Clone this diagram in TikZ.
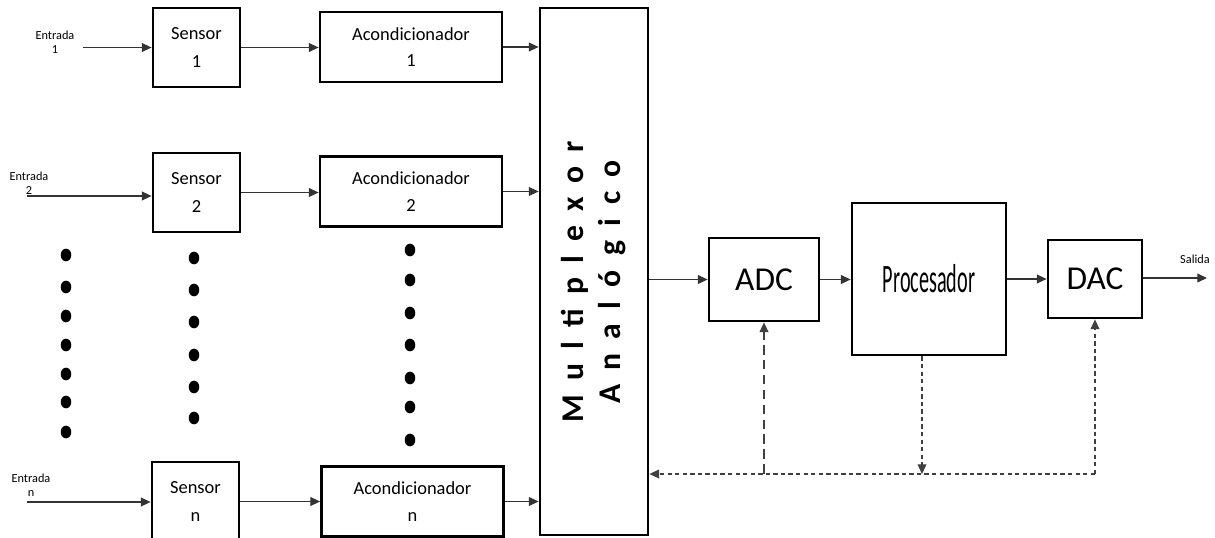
\documentclass[tikz,border=0pt]{standalone}
\usepackage{fontspec}
\setmainfont{Carlito}
\newfontfamily\muxfont[LetterSpace=45]{Carlito}
\usepackage{tikz}
\usetikzlibrary{arrows.meta, positioning, calc}
\tikzset{
  %% Thick block
  blk/.style={
    rectangle, draw=black, line width=1.6pt,
    inner sep=0pt, align=center,
    font=\fontsize{10.5}{15}\selectfont
  },
  %% Sensor and conditioner sizes
  sens/.style={blk, minimum width=1.74cm, minimum height=1.58cm,
               font=\fontsize{10.5}{16}\selectfont},
  acond/.style={blk, minimum width=3.64cm, minimum height=1.4cm},
  %% Big label inside ADC / DAC
  big/.style={font=\fontsize{19}{21}\selectfont},
  %% Arrow
  arr/.style={-{Triangle[length=5.5pt,width=5pt]},
              draw=black!80, line width=0.6pt},
  %% Dashed control line
  carr/.style={-{Triangle[length=5.5pt,width=5pt]},
               draw=black!75, line width=0.6pt,
               dash pattern=on 2.5pt off 1.8pt},
  %% Small text
  lbl/.style={font=\fontsize{7}{8}\selectfont, align=center, inner sep=0pt},
}

\begin{document}
\begin{tikzpicture}[x=0.02cm, y=-0.02cm]

  \useasboundingbox (0,0) rectangle (1215,538);

  %% Sensors
  \node[sens] (s1) at (196.5,47.5)  {Sensor\\1};
  \node[sens] (s2) at (196.5,192.5) {Sensor\\2};
  \node[sens] (sn) at (195.5,501.5) {Sensor\\n};

  %% Conditioners
  \node[acond] (ac1) at (411,47)    {Acondicionador\\1};
  \node[acond] (ac2) at (411,191.5) {Acondicionador\\2};
  \node[acond] (acn) at (412.5,501.5) {Acondicionador\\n};

  %% Multiplexer
  \node[blk, minimum width=2.16cm, minimum height=10.54cm] (mux) at (594,271.5) {};
  \node[rotate=90, align=center, inner sep=0pt,
        font=\muxfont\bfseries\fontsize{18}{21}\selectfont] (muxtxt) at (594,282)
       {Multiplexor\\Analógico};

  %% ADC, processor, DAC
  \node[blk, big, minimum width=2.2cm, minimum height=1.66cm] (adc) at (764,279.5) {ADC};
  \node[blk, minimum width=3.08cm, minimum height=3.04cm] (proc) at (929,279)
       {\scalebox{0.5}[1]{\fontsize{23}{25}\selectfont Procesador}};
  \node[blk, big, minimum width=1.88cm, minimum height=1.56cm] (dac) at (1095,279) {DAC};

  %% Inputs
  \node[lbl] (e1) at (55,42)  {Entrada\\1};
  \node[lbl] (e2) at (29,183) {Entrada\\2};
  \node[lbl] (en) at (31,485) {Entrada\\n};
  \coordinate (in1) at (83,47.5);
  \coordinate (in2) at (27,196);
  \coordinate (inn) at (27,502);
  \draw[arr] (in1) -- (in1 -| s1.west);
  \draw[arr] (in2) -- (in2 -| s2.west);
  \draw[arr] (inn) -- (inn -| sn.west);

  %% Sensor -> conditioner -> multiplexer
  \draw[arr] (s1.east) -- (s1.east -| ac1.west);
  \draw[arr] (s2.east) -- (s2.east -| ac2.west);
  \draw[arr] (sn.east) -- (sn.east -| acn.west);
  \draw[arr] (ac1.east) -- (ac1.east -| mux.west);
  \draw[arr] (ac2.east) -- (ac2.east -| mux.west);
  \draw[arr] (acn.east) -- (acn.east -| mux.west);

  %% Main chain
  \draw[arr] (adc.west -| mux.east) -- (adc.west);
  \draw[arr] (adc.east) -- (adc.east -| proc.west);
  \draw[arr] (proc.east |- dac.west) -- (dac.west);
  \coordinate (out) at (1207,278);
  \draw[arr] (dac.east |- out) -- (out);
  \node[lbl] (sal) at (1195,259) {Salida};

  %% Control bus (dashed)
  \coordinate (bus) at (1095,474);
  \draw[carr] (bus) -- (bus -| mux.east);
  \draw[carr] (bus) -- (dac.south);
  \draw[carr, dash pattern=on 5.5pt off 3pt] (adc.south |- bus) -- (adc.south);
  \draw[carr] ([xshift=-0.14cm]proc.south) -- ([xshift=-0.14cm]proc.south |- bus);

  %% Dots
  \foreach \y in {255, 287, 316, 345, 374, 402, 432}
    \fill (66,\y) ellipse (3pt and 3.6pt);
  \foreach \y in {258, 290, 322, 355, 387, 418}
    \fill (194,\y) ellipse (3pt and 3.6pt);
  \foreach \y in {250, 280, 313, 345, 378, 407, 440}
    \fill (410,\y) ellipse (3pt and 3.6pt);

\end{tikzpicture}
\end{document}
